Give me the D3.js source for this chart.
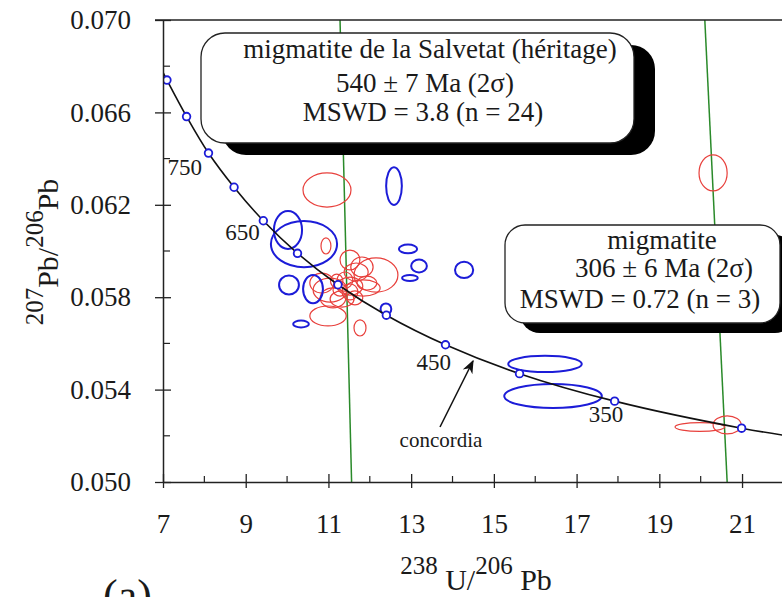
<!DOCTYPE html>
<html><head><meta charset="utf-8">
<script src="https://cdn.jsdelivr.net/npm/d3@7"></script>
<style>
html,body{margin:0;padding:0;background:#fff;}
svg text{font-family:"Liberation Serif","Times New Roman",serif;fill:#1a1a1a;}
</style></head>
<body>
<svg id="c" width="782" height="597"></svg>
<script>
// ---------- data ----------
const xTicks = [7, 9, 11, 13, 15, 17, 19, 21];
const xMinor = [8, 10, 12, 14, 16, 18, 20, 22];
const yTicks = [0.050, 0.054, 0.058, 0.062, 0.066, 0.070];
const yMinor = [0.052, 0.056, 0.060, 0.064, 0.068];

// concordia (Tera-Wasserburg) points, age in Ma
const concAges = [860, 850, 800, 750, 700, 650, 600, 550, 500, 450, 400, 350, 300, 270];
const concX = [7.006, 7.095, 7.57, 8.10, 8.718, 9.426, 10.252, 11.23, 12.40, 13.83, 15.62, 17.92, 20.99, 23.38];
const concY = [0.06771, 0.06740, 0.06582, 0.06424, 0.06276, 0.06131, 0.05990, 0.05854, 0.05722, 0.05594, 0.05469, 0.05350, 0.05233, 0.05165];
const markerAges = [850, 800, 750, 700, 650, 600, 550, 500, 450, 400, 350, 300];
const labelAges = [750, 650, 450, 350];

// error ellipses: [x, y, halfWidthX, halfHeightY]
const blueEllipses = [
  [12.585, 0.06281, 0.19, 0.00082],
  [10.022, 0.06091, 0.34, 0.00082],
  [10.409, 0.06030, 0.80, 0.00100],
  [10.046, 0.05853, 0.24, 0.00041],
  [10.627, 0.05835, 0.24, 0.00061],
  [10.337, 0.05684, 0.19, 0.00015],
  [12.924, 0.06009, 0.22, 0.00019],
  [13.19, 0.05935, 0.19, 0.00028],
  [12.97, 0.05883, 0.19, 0.00013],
  [14.28, 0.05918, 0.22, 0.00035],
  [12.39, 0.05749, 0.13, 0.00024],
  [16.236, 0.05511, 0.89, 0.00035],
  [16.43, 0.05372, 1.18, 0.00052]
];
const redEllipses = [
  [10.965, 0.06264, 0.58, 0.00074],
  [10.94, 0.06022, 0.12, 0.00035],
  [20.30, 0.06338, 0.34, 0.00078],
  [11.763, 0.05667, 0.145, 0.00035],
  [11.52, 0.05961, 0.24, 0.00043],
  [11.81, 0.05931, 0.27, 0.00043],
  [12.15, 0.05896, 0.53, 0.00074],
  [11.67, 0.05909, 0.29, 0.00039],
  [10.84, 0.05861, 0.29, 0.00043],
  [11.04, 0.05831, 0.41, 0.00052],
  [11.52, 0.05848, 0.31, 0.00039],
  [11.84, 0.05840, 0.41, 0.00035],
  [11.11, 0.05797, 0.31, 0.00043],
  [11.33, 0.05792, 0.29, 0.00035],
  [11.52, 0.05823, 0.19, 0.00035],
  [10.99, 0.05719, 0.44, 0.00043],
  [11.93, 0.05861, 0.24, 0.00030],
  [11.28, 0.05831, 0.17, 0.00026],
  [11.64, 0.05797, 0.19, 0.00030],
  [11.40, 0.05874, 0.19, 0.00035],
  [11.20, 0.05870, 0.15, 0.00030],
  [19.98, 0.05238, 0.60, 0.00019],
  [20.64, 0.05247, 0.34, 0.00039]
];
// discordia lines: [x at y=0.070, x at y=0.050]
const discordiaTopX = [11.28, 20.10];
const discordiaBottomX = [11.56, 20.64];

const box1Lines = ["migmatite de la Salvetat (héritage)", "540 ± 7 Ma (2σ)", "MSWD = 3.8 (n = 24)"];
const box2Lines = ["migmatite", "306 ± 6 Ma (2σ)", "MSWD = 0.72 (n = 3)"];

// ---------- chart ----------
const svg = d3.select("#c");
const x = d3.scaleLinear().domain([7, 22]).range([163, 783.4]);
const y = d3.scaleLinear().domain([0.050, 0.070]).range([482, 20]);

svg.append("defs").append("clipPath").attr("id", "plot")
  .append("rect").attr("x", 163).attr("y", 20).attr("width", 620).attr("height", 462);
svg.select("defs").append("marker").attr("id", "arr")
  .attr("viewBox", "0 0 10 10").attr("refX", 9).attr("refY", 5)
  .attr("markerWidth", 9).attr("markerHeight", 9).attr("orient", "auto")
  .append("path").attr("d", "M0,1 L10,5 L0,9 L3,5 Z").attr("fill", "#111");

const g = svg.append("g").attr("clip-path", "url(#plot)");

// discordia
g.selectAll("line.disc").data(discordiaTopX).join("line")
  .attr("x1", d => x(d)).attr("y1", y(0.070))
  .attr("x2", (d, i) => x(discordiaBottomX[i])).attr("y2", y(0.050))
  .attr("stroke", "#2a8a2a").attr("stroke-width", 1.5);

// ellipses
const ell = (sel, data, color, w) => sel.selectAll(null).data(data).join("ellipse")
  .attr("cx", d => x(d[0])).attr("cy", d => y(d[1]))
  .attr("rx", d => x(d[0] + d[2]) - x(d[0])).attr("ry", d => y(d[1] - d[3]) - y(d[1]))
  .attr("fill", "none").attr("stroke", color).attr("stroke-width", w);
ell(g, redEllipses, "#e8403c", 1.2);
ell(g, blueEllipses, "#1c1cd8", 2);

// concordia
const concPts = concX.map((v, i) => [v, concY[i]]);
g.append("path").datum(concPts)
  .attr("d", d3.line().x(d => x(d[0])).y(d => y(d[1])).curve(d3.curveCatmullRom))
  .attr("fill", "none").attr("stroke", "#111").attr("stroke-width", 1.6);
const markers = markerAges.map(a => { const i = concAges.indexOf(a); return [concX[i], concY[i]]; });
g.selectAll("circle.m").data(markers).join("circle")
  .attr("cx", d => x(d[0])).attr("cy", d => y(d[1])).attr("r", 3.8)
  .attr("fill", "#fff").attr("stroke", "#1c1cd8").attr("stroke-width", 1.8);

// age labels
const labelOffsets = {750: [-41, 22], 650: [-38, 19], 450: [-29, 25], 350: [-26, 21]};
labelAges.forEach(a => {
  const i = concAges.indexOf(a);
  svg.append("text").attr("x", x(concX[i]) + labelOffsets[a][0]).attr("y", y(concY[i]) + labelOffsets[a][1])
    .attr("font-size", 23).text(a);
});

// concordia annotation
svg.append("line").attr("x1", 440).attr("y1", 427).attr("x2", 473).attr("y2", 361)
  .attr("stroke", "#111").attr("stroke-width", 1.5).attr("marker-end", "url(#arr)");
svg.append("text").attr("x", 441).attr("y", 447).attr("text-anchor", "middle")
  .attr("font-size", 21).text("concordia");

// boxes
function box(x0, y0, w, h, r, dx, dy, lines, cx, bases) {
  svg.append("rect").attr("x", x0 + dx).attr("y", y0 + dy).attr("width", w).attr("height", h)
    .attr("rx", r).attr("ry", r).attr("fill", "#000");
  svg.append("rect").attr("x", x0).attr("y", y0).attr("width", w).attr("height", h)
    .attr("rx", r).attr("ry", r).attr("fill", "#fff").attr("stroke", "#222").attr("stroke-width", 1.3);
  lines.forEach((t, i) => svg.append("text").attr("x", cx[i]).attr("y", bases[i])
    .attr("text-anchor", "middle").attr("font-size", 27).text(t));
}
box(201, 33, 433, 110, 24, 21, 12, box1Lines, [430, 425, 423], [58, 92, 121]);
box(505, 225, 275, 98, 20, 15, 10, box2Lines, [662, 664, 640], [249, 277, 308]);

// axes
const ax = svg.append("g").attr("transform", `translate(0,${y(0.050)})`)
  .call(d3.axisBottom(x).tickValues(xTicks).tickSize(0).tickPadding(51).tickFormat(d3.format("d")));
ax.select(".domain").attr("stroke", "#222").attr("stroke-width", 1.5);
ax.selectAll(".tick text").attr("font-size", 27).attr("font-family", "Liberation Serif").attr("fill", "#2a2a2a").attr("dy", "0");
ax.selectAll(".tick").append("line").attr("y1", -8).attr("y2", 6).attr("stroke", "#222").attr("stroke-width", 1.3);
svg.append("g").attr("transform", `translate(0,${y(0.050)})`)
  .selectAll("line").data(xMinor).join("line")
  .attr("x1", d => x(d)).attr("x2", d => x(d)).attr("y1", -6).attr("y2", 0)
  .attr("stroke", "#222").attr("stroke-width", 1.2);

const ay = svg.append("g").attr("transform", `translate(${x(7)},0)`)
  .call(d3.axisLeft(y).tickValues(yTicks).tickSize(0).tickPadding(32).tickFormat(d3.format(".3f")));
ay.select(".domain").attr("stroke", "#222").attr("stroke-width", 1.5);
ay.selectAll(".tick text").attr("font-size", 27).attr("font-family", "Liberation Serif").attr("fill", "#2a2a2a");
ay.selectAll(".tick").append("line").attr("x1", -8).attr("x2", 8).attr("stroke", "#222").attr("stroke-width", 1.3);
svg.append("g").attr("transform", `translate(${x(7)},0)`)
  .selectAll("line").data(yMinor).join("line")
  .attr("y1", d => y(d)).attr("y2", d => y(d)).attr("x1", 0).attr("x2", 7)
  .attr("stroke", "#222").attr("stroke-width", 1.2);

// top frame
svg.append("line").attr("x1", 155).attr("x2", 782).attr("y1", y(0.070)).attr("y2", y(0.070))
  .attr("stroke", "#222").attr("stroke-width", 1.5);

// axis titles
const xt = svg.append("text").attr("x", 476).attr("y", 590).attr("text-anchor", "middle").attr("font-size", 30);
xt.append("tspan").attr("font-size", 25).attr("dy", -16).text("238");
xt.append("tspan").attr("dy", 16).text(" U/");
xt.append("tspan").attr("font-size", 25).attr("dy", -16).text("206");
xt.append("tspan").attr("dy", 16).text(" Pb");

const yt = svg.append("text").attr("transform", "translate(58,252) rotate(-90)")
  .attr("text-anchor", "middle").attr("font-size", 30);
yt.append("tspan").attr("font-size", 25).attr("dy", -15).text("207");
yt.append("tspan").attr("dy", 15).text("Pb/");
yt.append("tspan").attr("font-size", 25).attr("dy", -15).text("206");
yt.append("tspan").attr("dy", 15).text("Pb");

svg.append("text").attr("x", 103).attr("y", 610).attr("font-size", 44).text("(a)");
</script>
</body></html>
